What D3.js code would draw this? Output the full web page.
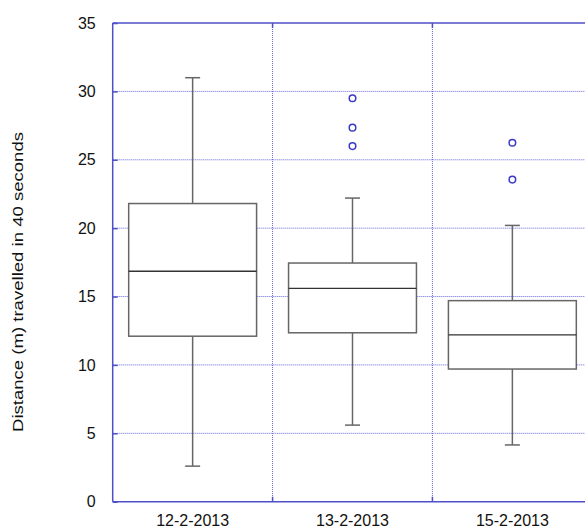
<!DOCTYPE html>
<html>
<head>
<meta charset="utf-8">
<script src="https://cdn.jsdelivr.net/npm/d3@7"></script>
<style>
  html, body { margin: 0; padding: 0; background: #fff; }
  svg { display: block; }
  text { font-family: "Liberation Sans", Arial, sans-serif; fill: #111; }
</style>
</head>
<body>
<svg id="chart" width="585" height="530"></svg>
<script>
// Trip dates (one box per date)
const categories = ["12-2-2013", "13-2-2013", "15-2-2013"];
// Five-number summaries per date
const whiskerLow  = [2.6, 5.6, 4.15];
const quartile1   = [12.1, 12.35, 9.7];
const medians     = [16.85, 15.6, 12.2];
const quartile3   = [21.8, 17.45, 14.7];
const whiskerHigh = [31.0, 22.2, 20.2];
// Points beyond the whiskers
const outliers = [[], [29.5, 27.35, 26.0], [26.25, 23.55]];
const yTicks = [0, 5, 10, 15, 20, 25, 30, 35];
const yLabel = "Distance (m) travelled in 40 seconds";

const svg = d3.select("#chart");
const plotLeft = 112.7, plotRight = 592.3, plotTop = 23, plotBottom = 501.7;

const x = d3.scaleBand().domain(categories).range([plotLeft, plotRight]).padding(0);
const y = d3.scaleLinear().domain([0, 35]).range([plotBottom, plotTop]);

const axisColor = "#4f4fc9";
const gridColor = "#6464dc";

const boxes = categories.map((c, i) => ({
  cat: c, lo: whiskerLow[i], q1: quartile1[i], med: medians[i],
  q3: quartile3[i], hi: whiskerHigh[i], out: outliers[i]
}));

// horizontal grid
svg.append("g").selectAll("line").data(yTicks.slice(1, -1)).join("line")
  .attr("x1", plotLeft).attr("x2", 585)
  .attr("y1", d => y(d)).attr("y2", d => y(d))
  .attr("stroke", gridColor).attr("stroke-width", 1)
  .attr("stroke-dasharray", "1,1");

// vertical grid between dates
svg.append("g").selectAll("line").data(categories.slice(1)).join("line")
  .attr("x1", d => x(d)).attr("x2", d => x(d))
  .attr("y1", plotTop).attr("y2", plotBottom)
  .attr("stroke", gridColor).attr("stroke-width", 1)
  .attr("stroke-dasharray", "1,1");

// frame lines
const frame = svg.append("g").attr("stroke", axisColor).attr("stroke-width", 1.5);
frame.append("line").attr("x1", plotLeft).attr("x2", 585).attr("y1", plotTop).attr("y2", plotTop);
frame.append("line").attr("x1", plotLeft).attr("x2", 585).attr("y1", plotBottom).attr("y2", plotBottom);
frame.append("line").attr("x1", plotLeft).attr("x2", plotLeft).attr("y1", plotTop).attr("y2", plotBottom);

// y axis with inward ticks
const yAxis = svg.append("g").attr("transform", `translate(${plotLeft},0)`)
  .call(d3.axisLeft(y).tickValues(yTicks).tickSize(-5).tickPadding(17));
yAxis.select(".domain").remove();
yAxis.selectAll(".tick line").attr("stroke", axisColor).attr("stroke-width", 1.5);
yAxis.selectAll(".tick text").attr("font-size", 16).attr("fill", "#111")
  .attr("font-family", "'Liberation Sans', Arial, sans-serif");

// short ticks on top and bottom at band edges
const edgeTicks = svg.append("g").attr("stroke", axisColor).attr("stroke-width", 1.5);
categories.slice(1).forEach(c => {
  edgeTicks.append("line").attr("x1", x(c)).attr("x2", x(c)).attr("y1", plotTop).attr("y2", plotTop + 5);
  edgeTicks.append("line").attr("x1", x(c)).attr("x2", x(c)).attr("y1", plotBottom).attr("y2", plotBottom - 5);
});

// x category labels
svg.append("g").selectAll("text").data(categories).join("text")
  .attr("x", d => x(d) + x.bandwidth() / 2)
  .attr("y", 526)
  .attr("text-anchor", "middle")
  .attr("font-size", 16)
  .text(d => d);

// y axis title
svg.append("text")
  .attr("transform", `translate(22.5,282) rotate(-90)`)
  .attr("text-anchor", "middle")
  .attr("font-size", 15)
  .attr("textLength", 300)
  .attr("lengthAdjust", "spacingAndGlyphs")
  .text(yLabel);

// box plots
const boxW = x.bandwidth() * 0.8;
const capW = 15;
const g = svg.append("g");
boxes.forEach(b => {
  const cx = x(b.cat) + x.bandwidth() / 2;
  const grp = g.append("g");
  // whiskers
  grp.append("line").attr("x1", cx).attr("x2", cx).attr("y1", y(b.q3)).attr("y2", y(b.hi))
    .attr("stroke", "#666").attr("stroke-width", 1.5);
  grp.append("line").attr("x1", cx).attr("x2", cx).attr("y1", y(b.q1)).attr("y2", y(b.lo))
    .attr("stroke", "#666").attr("stroke-width", 1.5);
  grp.append("line").attr("x1", cx - capW / 2).attr("x2", cx + capW / 2)
    .attr("y1", y(b.hi)).attr("y2", y(b.hi)).attr("stroke", "#666").attr("stroke-width", 1.5);
  grp.append("line").attr("x1", cx - capW / 2).attr("x2", cx + capW / 2)
    .attr("y1", y(b.lo)).attr("y2", y(b.lo)).attr("stroke", "#666").attr("stroke-width", 1.5);
  // box
  grp.append("rect").attr("x", cx - boxW / 2).attr("width", boxW)
    .attr("y", y(b.q3)).attr("height", y(b.q1) - y(b.q3))
    .attr("fill", "#fff").attr("stroke", "#666").attr("stroke-width", 1.5);
  // median
  grp.append("line").attr("x1", cx - boxW / 2).attr("x2", cx + boxW / 2)
    .attr("y1", y(b.med)).attr("y2", y(b.med)).attr("stroke", "#333").attr("stroke-width", 1.3);
  // outliers
  grp.selectAll("circle").data(b.out).join("circle")
    .attr("cx", cx).attr("cy", d => y(d)).attr("r", 3.3)
    .attr("fill", "none").attr("stroke", "#3a3ac8").attr("stroke-width", 1.5);
});
</script>
</body>
</html>
